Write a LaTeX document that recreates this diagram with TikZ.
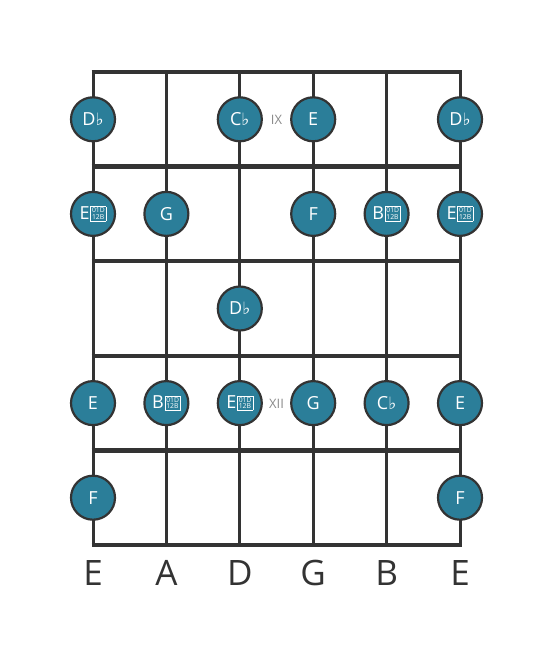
\documentclass[tikz,border=0pt]{standalone}
\usepackage{fontspec}
\setmainfont{Open Sans}
\newfontfamily\symfont{DejaVu Sans}
\usetikzlibrary{positioning}
\definecolor{notefill}{HTML}{2B7E99}
\definecolor{boardcol}{HTML}{333333}
\definecolor{fretgray}{HTML}{8A8A8A}
% flat sign and the missing-glyph box for the double flat
\newcommand{\fl}{{\symfont\fontsize{17}{17}\selectfont ♭}}
\newcommand{\dfl}{\hspace{0.8pt}{\fboxsep=1.1pt\fboxrule=0.5pt\fbox{\vbox{\fontsize{6.8}{6.8}\selectfont\baselineskip=6.8pt\hbox{01D}\hbox{12B}}}}}

\begin{document}
\begin{tikzpicture}[x=1pt,y=-1pt,
    note/.style={circle, draw=boardcol, line width=2.2pt, fill=notefill, minimum size=44pt, inner sep=0pt, text=white, font=\fontsize{18}{18}\selectfont},
    fretno/.style={text=fretgray, font=\fontsize{13}{13}\selectfont},
    strname/.style={text=boardcol, font=\fontsize{35}{35}\selectfont}]

    \useasboundingbox (0,0) rectangle (553,656);

    %\draw[step=10,help lines] (0,0) grid (553,656);

    % strings
    \foreach \i in {0,...,5}{
        \coordinate (s\i top) at ({93+\i*73.4},72);
        \coordinate (s\i bot) at ({93+\i*73.4},545);
        \draw[boardcol, line width=3pt] (s\i top) -- (s\i bot);
    }
    % frets
    \foreach \j in {0,...,5}{
        \coordinate (f\j left) at (91.5,{72+\j*94.6});
        \coordinate (f\j right) at (461.5,{72+\j*94.6});
        \draw[boardcol, line width=4.5pt] (f\j left) -- (f\j right);
    }

    % first row
    \node[note] (r1s1) at (93,119.3) {D\fl};
    \node[note] (r1s3) at (239.8,119.3) {C\fl};
    \node[fretno] (ix) at (276.5,120) {IX};
    \node[note] (r1s4) at (313.2,119.3) {E};
    \node[note] (r1s6) at (460,119.3) {D\fl};

    % second row
    \node[note] (r2s1) at (93,213.9) {E\dfl};
    \node[note] (r2s2) at (166.4,213.9) {G};
    \node[note] (r2s4) at (313.2,213.9) {F};
    \node[note] (r2s5) at (386.6,213.9) {B\dfl};
    \node[note] (r2s6) at (460,213.9) {E\dfl};

    % third row
    \node[note] (r3s3) at (239.8,308.5) {D\fl};

    % fourth row
    \node[note] (r4s1) at (93,403.1) {E};
    \node[note] (r4s2) at (166.4,403.1) {B\dfl};
    \node[note] (r4s3) at (239.8,403.1) {E\dfl};
    \node[fretno] (xii) at (276.5,404) {XII};
    \node[note] (r4s4) at (313.2,403.1) {G};
    \node[note] (r4s5) at (386.6,403.1) {C\fl};
    \node[note] (r4s6) at (460,403.1) {E};

    % fifth row
    \node[note] (r5s1) at (93,497.7) {F};
    \node[note] (r5s6) at (460,497.7) {F};

    % open strings
    \node[strname] (lowE) at (93,573) {E};
    \node[strname] (strA) at (166.4,573) {A};
    \node[strname] (strD) at (239.8,573) {D};
    \node[strname] (strG) at (313.2,573) {G};
    \node[strname] (strB) at (386.6,573) {B};
    \node[strname] (highE) at (460,573) {E};
\end{tikzpicture}
\end{document}
